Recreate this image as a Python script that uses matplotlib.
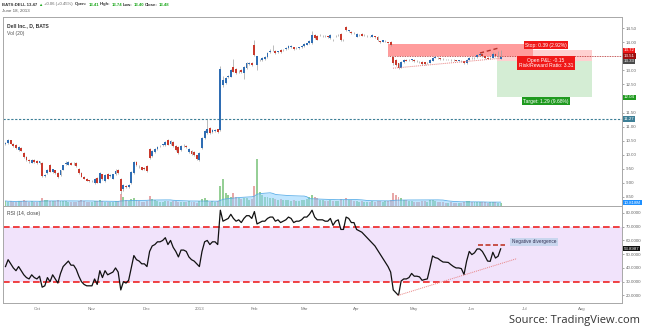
import numpy as np
import pandas as pd
import matplotlib
matplotlib.use("Agg")
import matplotlib.pyplot as plt
from matplotlib.patches import Rectangle

plt.rcParams["font.family"] = ["Liberation Sans", "DejaVu Sans"]

# daily bars, BATS:DELL, 2012-09-13 .. 2013-06-18
opens = [10.40, 10.42, 10.52, 10.38, 10.35, 10.18, 10.25, 10.07, 9.93, 9.80, 9.72, 9.82, 9.78, 9.70, 9.72, 9.26, 9.35, 9.62, 9.38, 9.45,
         9.36, 9.28, 9.46, 9.66, 9.65, 9.72, 9.70, 9.72, 9.48, 9.35, 9.22, 9.15, 9.08, 9.05, 9.00, 9.17, 9.00, 9.30, 9.05, 9.30,
         9.25, 9.15, 9.30, 9.45, 9.15, 8.78, 8.90, 8.86, 9.00, 9.35, 9.74, 9.58, 9.55, 9.52, 9.60, 10.20, 9.95, 10.10, 10.20, 10.30,
         10.35, 10.35, 10.52, 10.38, 10.45, 10.32, 10.28, 10.18, 10.33, 10.32, 10.08, 10.15, 10.10, 9.98, 9.82, 10.24, 10.60, 10.78, 10.95, 10.80,
         10.85, 10.90, 10.88, 12.48, 12.55, 12.77, 12.78, 13.11, 13.05, 12.94, 13.03, 12.90, 13.07, 13.24, 13.28, 13.90, 13.19, 13.36, 13.37, 13.40,
         13.49, 13.66, 13.72, 13.70, 13.66, 13.73, 13.72, 13.78, 13.79, 13.84, 13.82, 13.80, 13.81, 13.82, 13.87, 13.91, 13.96, 13.96, 14.26, 14.22,
         14.25, 14.21, 14.23, 14.21, 14.14, 14.09, 14.21, 14.25, 14.30, 14.07, 14.53, 14.41, 14.38, 14.33, 14.20, 14.25, 14.30, 14.25, 14.21, 14.22,
         14.20, 14.21, 14.20, 14.03, 14.02, 14.05, 14.00, 14.02, 13.49, 13.37, 13.25, 13.10, 13.31, 13.36, 13.36, 13.38, 13.37, 13.33, 13.30, 13.31,
         13.29, 13.25, 13.28, 13.35, 13.46, 13.45, 13.43, 13.41, 13.40, 13.39, 13.38, 13.37, 13.36, 13.35, 13.34, 13.33, 13.26, 13.38, 13.44, 13.43,
         13.47, 13.55, 13.60, 13.50, 13.45, 13.43, 13.45, 13.60, 13.50, 13.41]
highs = [10.46, 10.55, 10.54, 10.41, 10.37, 10.30, 10.28, 10.10, 9.96, 9.84, 9.85, 9.86, 9.80, 9.79, 9.75, 9.33, 9.48, 9.66, 9.50, 9.47,
         9.38, 9.47, 9.65, 9.76, 9.77, 9.75, 9.73, 9.74, 9.52, 9.37, 9.25, 9.18, 9.11, 9.10, 9.16, 9.20, 9.38, 9.33, 9.30, 9.34,
         9.32, 9.33, 9.48, 9.48, 9.18, 8.95, 8.93, 8.96, 9.42, 9.77, 9.78, 9.62, 9.58, 9.55, 9.63, 10.24, 10.18, 10.25, 10.31, 10.36,
         10.40, 10.48, 10.56, 10.51, 10.48, 10.35, 10.30, 10.35, 10.38, 10.35, 10.23, 10.18, 10.13, 10.00, 10.09, 10.63, 10.88, 11.27, 10.98, 10.91,
         10.92, 10.93, 13.15, 12.80, 12.76, 12.83, 13.05, 13.40, 13.08, 13.00, 13.06, 13.16, 13.31, 13.30, 13.31, 14.08, 13.53, 13.42, 13.48, 13.51,
         13.64, 13.75, 13.90, 13.73, 13.70, 13.76, 13.76, 13.82, 13.90, 13.90, 13.85, 13.84, 13.85, 13.89, 13.96, 13.98, 14.08, 14.42, 14.29, 14.25,
         14.29, 14.25, 14.26, 14.24, 14.28, 14.12, 14.25, 14.29, 14.33, 14.11, 14.58, 14.45, 14.40, 14.36, 14.32, 14.29, 14.32, 14.28, 14.25, 14.24,
         14.28, 14.23, 14.22, 14.06, 14.10, 14.09, 14.03, 14.04, 13.52, 13.40, 13.28, 13.33, 13.40, 13.39, 13.41, 13.42, 13.40, 13.36, 13.33, 13.34,
         13.31, 13.29, 13.39, 13.49, 13.50, 13.48, 13.45, 13.43, 13.42, 13.42, 13.40, 13.39, 13.38, 13.38, 13.37, 13.35, 13.40, 13.48, 13.47, 13.49,
         13.60, 13.62, 13.63, 13.53, 13.48, 13.47, 13.66, 13.63, 13.69, 13.74]
lows = [10.36, 10.40, 10.37, 10.27, 10.22, 10.15, 10.12, 9.90, 9.78, 9.70, 9.70, 9.72, 9.68, 9.67, 9.22, 9.20, 9.32, 9.38, 9.36, 9.32,
        9.19, 9.25, 9.44, 9.63, 9.62, 9.62, 9.62, 9.55, 9.33, 9.20, 9.12, 9.05, 9.03, 9.02, 8.97, 8.98, 8.98, 9.10, 9.02, 9.12,
        9.20, 9.13, 9.28, 9.32, 8.62, 8.72, 8.80, 8.83, 8.97, 9.33, 9.60, 9.52, 9.44, 9.46, 9.40, 9.85, 9.92, 10.07, 10.17, 10.26,
        10.31, 10.32, 10.33, 10.35, 10.28, 10.15, 10.03, 10.15, 10.29, 10.25, 10.05, 10.00, 9.97, 9.82, 9.78, 10.22, 10.57, 10.75, 10.75, 10.77,
        10.82, 10.77, 10.85, 12.40, 12.50, 12.72, 12.75, 12.93, 12.87, 12.90, 12.92, 12.70, 13.04, 13.20, 13.17, 13.50, 13.00, 13.32, 13.34, 13.37,
        13.46, 13.62, 13.68, 13.58, 13.62, 13.62, 13.69, 13.74, 13.76, 13.80, 13.72, 13.77, 13.78, 13.80, 13.85, 13.89, 13.94, 13.94, 14.11, 14.08,
        14.21, 14.18, 14.19, 14.16, 14.12, 14.04, 14.18, 14.22, 14.05, 14.04, 14.41, 14.38, 14.29, 14.29, 14.18, 14.22, 14.21, 14.22, 14.19, 14.18,
        14.18, 14.17, 14.05, 13.99, 14.00, 14.02, 13.96, 13.88, 13.20, 13.15, 13.05, 13.07, 13.28, 13.32, 13.33, 13.35, 13.30, 13.29, 13.26, 13.20,
        13.21, 13.22, 13.26, 13.33, 13.43, 13.41, 13.38, 13.37, 13.36, 13.36, 13.34, 13.33, 13.32, 13.32, 13.30, 13.22, 13.24, 13.36, 13.40, 13.41,
        13.45, 13.52, 13.49, 13.42, 13.39, 13.40, 13.43, 13.49, 13.47, 13.40]
closes = [10.42, 10.52, 10.40, 10.30, 10.25, 10.27, 10.15, 9.93, 9.82, 9.78, 9.82, 9.75, 9.72, 9.76, 9.25, 9.28, 9.46, 9.40, 9.48, 9.35,
          9.22, 9.45, 9.62, 9.72, 9.74, 9.64, 9.69, 9.60, 9.36, 9.22, 9.15, 9.08, 9.07, 9.06, 9.14, 9.00, 9.36, 9.12, 9.28, 9.15,
          9.27, 9.30, 9.43, 9.35, 8.70, 8.92, 8.85, 8.93, 9.39, 9.74, 9.64, 9.56, 9.47, 9.50, 9.42, 9.88, 10.15, 10.22, 10.28, 10.32,
          10.36, 10.45, 10.35, 10.48, 10.30, 10.18, 10.06, 10.32, 10.34, 10.28, 10.20, 10.03, 10.00, 9.85, 10.06, 10.60, 10.84, 10.90, 10.78, 10.88,
          10.86, 10.80, 13.05, 12.66, 12.72, 12.79, 13.02, 12.96, 12.90, 12.96, 12.95, 13.13, 13.28, 13.26, 13.20, 13.55, 13.51, 13.38, 13.45, 13.48,
          13.61, 13.67, 13.73, 13.61, 13.67, 13.65, 13.73, 13.79, 13.87, 13.85, 13.75, 13.81, 13.82, 13.87, 13.94, 13.96, 14.06, 14.26, 14.14, 14.10,
          14.26, 14.22, 14.22, 14.20, 14.26, 14.08, 14.22, 14.26, 14.08, 14.08, 14.44, 14.42, 14.32, 14.32, 14.30, 14.26, 14.23, 14.26, 14.22, 14.21,
          14.26, 14.20, 14.08, 14.02, 14.08, 14.06, 13.99, 13.91, 13.25, 13.19, 13.08, 13.30, 13.37, 13.35, 13.38, 13.39, 13.33, 13.32, 13.29, 13.22,
          13.24, 13.26, 13.36, 13.46, 13.47, 13.44, 13.41, 13.40, 13.39, 13.39, 13.37, 13.36, 13.35, 13.35, 13.33, 13.25, 13.37, 13.45, 13.43, 13.46,
          13.55, 13.58, 13.52, 13.45, 13.42, 13.44, 13.58, 13.52, 13.53, 13.48]
volumes = [16, 14, 15, 13, 14, 17, 15, 18, 16, 14, 15, 13, 14, 15, 25, 20, 18, 17, 15, 16,
           18, 16, 17, 15, 14, 13, 12, 14, 17, 18, 16, 14, 13, 12, 15, 16, 19, 15, 14, 13,
           12, 14, 16, 15, 38, 28, 20, 16, 22, 24, 18, 15, 14, 13, 17, 32, 22, 18, 16, 14,
           13, 15, 16, 14, 15, 17, 14, 13, 12, 14, 15, 13, 12, 11, 16, 22, 24, 18, 14, 16,
           13, 15, 62, 85, 42, 36, 30, 40, 28, 24, 22, 26, 24, 20, 22, 64, 150, 45, 35, 28,
           30, 26, 24, 22, 20, 22, 19, 18, 20, 17, 19, 16, 17, 18, 20, 22, 28, 35, 30, 24,
           20, 18, 16, 15, 18, 17, 16, 15, 22, 18, 26, 20, 18, 16, 15, 14, 15, 13, 14, 13,
           15, 14, 17, 16, 14, 15, 16, 20, 42, 35, 30, 24, 20, 18, 16, 15, 14, 14, 13, 16,
           15, 14, 18, 20, 15, 13, 12, 12, 11, 11, 12, 11, 10, 10, 11, 14, 16, 15, 13, 12,
           13, 14, 13, 12, 11, 12, 13, 12, 11, 10.818]
rsi = [41, 46, 43, 40, 38, 41, 38, 35, 33, 32, 35, 33, 32, 34, 26, 27, 33, 30, 35, 32,
       29, 36, 41, 43, 45, 42, 42, 39, 34, 30, 28, 27, 27, 27, 32, 28, 38, 33, 38, 35,
       36, 37, 40, 37, 24, 30, 29, 31, 40, 49, 46, 45, 43, 43, 41, 52, 56, 57, 59, 59,
       60, 62, 57, 60, 55, 52, 48, 53, 53, 52, 48, 46, 45, 43, 41, 52, 59, 60, 57, 59,
       59, 57, 82, 74, 75, 76, 79, 76, 74, 75, 73, 76, 78, 78, 76, 81, 72, 73, 74, 74,
       76, 77, 77, 74, 75, 73, 74, 75, 77, 76, 73, 74, 74, 75, 77, 77, 79, 82, 77, 75,
       75, 75, 74, 74, 76, 71, 74, 75, 68, 68, 77, 76, 73, 73, 68, 67, 66, 64, 62, 60,
       58, 56, 53, 50, 47, 44, 41, 37, 24, 22, 20, 30.5, 32, 32, 33, 36, 34, 34, 33.5, 31,
       31.6, 32, 40, 48.7, 47.5, 47, 45.5, 44.3, 44.2, 44, 42.4, 41, 40, 40, 39.5, 35.2, 45, 52, 49.7, 51,
       53.8, 53.8, 52, 48.7, 45, 44.8, 51.4, 47.2, 48.5, 53.8987]

# 13.50 and 12.00 sit under the stop/target tags
price_ticks = [8.5, 9.0, 9.5, 10.0, 10.5, 11.0, 11.5, 12.5, 13.0, 14.0, 14.5]
rsi_ticks = [20, 30, 40, 50, 60, 70, 80]
holidays = ["2012-10-29", "2012-10-30", "2012-11-22", "2012-12-25", "2013-01-01",
            "2013-01-21", "2013-02-18", "2013-03-29", "2013-05-27", "2013-07-04"]

# position tool levels
entry, stop, target, last_px, resist = 13.33, 13.72, 12.04, 13.51, 11.27

opens, highs, lows, closes = map(np.array, (opens, highs, lows, closes))
volumes = np.array(volumes)
n = len(closes)
idx = np.arange(n)

days = pd.bdate_range("2012-09-13", "2013-08-30")
days = days[~days.isin(pd.to_datetime(holidays))]
month_pos, month_lab = [], []
for i in range(1, len(days)):
    if days[i].month != days[i - 1].month and days[i] >= pd.Timestamp("2012-10-01"):
        month_pos.append(i)
        month_lab.append("2013" if days[i].month == 1 else days[i].strftime("%b"))

W, H = 645, 331
fig = plt.figure(figsize=(W / 100, H / 100), dpi=100)


def rect(x0, y0, x1, y1):
    return [x0 / W, 1 - y1 / H, (x1 - x0) / W, (y1 - y0) / H]


def ftext(x, y, s, **kw):
    return fig.text(x / W, 1 - y / H, s, va="center", **kw)


x_lo, x_hi = -0.95, 235.3
ax_vol = fig.add_axes(rect(3, 17, 622, 206))
ax = fig.add_axes(rect(3, 17, 622, 206), sharex=ax_vol)
ax_rsi = fig.add_axes(rect(3, 206, 622, 303), sharex=ax_vol)
ax.patch.set_alpha(0)

# volume + 20-bar average
up = closes >= opens
ax_vol.bar(idx[up], volumes[up], width=0.75, color="#7cc47c", alpha=0.8, lw=0)
ax_vol.bar(idx[~up], volumes[~up], width=0.75, color="#e39393", alpha=0.8, lw=0)
vol_ma = pd.Series(volumes).rolling(20, min_periods=1).mean()
ax_vol.fill_between(idx, 0, vol_ma, color="#8fd2ff", alpha=0.55, lw=0)
ax_vol.plot(idx, vol_ma, color="#5aaee8", lw=0.6)
ax_vol.set_ylim(0, 600)
ax_vol.set_xlim(x_lo, x_hi)
ax_vol.axis("off")

# position boxes
x_box0, x_box1 = 187.6, 223.9
ax.add_patch(Rectangle((x_box0, entry), x_box1 - x_box0, stop - entry, fc="#ffd0d0", ec="none", zorder=0.5))
ax.add_patch(Rectangle((x_box0, target), x_box1 - x_box0, entry - target, fc="#d4edd4", ec="none", zorder=0.5))
ax.add_patch(Rectangle((146, 13.52), 201.3 - 146, 13.95 - 13.52, fc="#ff9c9c", ec="none", zorder=0.6))

# candles
ax.vlines(idx, lows, highs, color="#a0a0a0", lw=0.5, zorder=2)
body_lo = np.minimum(opens, closes)
body_h = np.maximum(np.abs(closes - opens), 0.015)
ax.bar(idx[up], body_h[up], bottom=body_lo[up], width=0.72, color="#2f6db3", lw=0, zorder=3)
ax.bar(idx[~up], body_h[~up], bottom=body_lo[~up], width=0.72, color="#c9392c", lw=0, zorder=3)

# drawn levels and trend lines
ax.axhline(resist, color="#3d7f96", lw=0.8, ls=(0, (2, 1.5)), zorder=1)
ax.plot([146, x_hi], [last_px, last_px], color="#b22222", lw=0.6, ls=(0, (1, 1)), zorder=1)
ax.plot([181.1, 188.7], [13.62, 13.81], color="#b5332b", lw=1.0, ls=(0, (3, 2)), zorder=4)
ax.plot([147.9, 188.7], [13.08, 13.43], color="#e88080", lw=0.7, ls=(0, (1, 1)), zorder=4)

lab = dict(ha="center", va="center", fontsize=3.6, color="white", zorder=6)
ax.text(206.3, 13.895, "Stop: 0.39 (2.92%)", bbox=dict(boxstyle="square,pad=0.3", fc="#f01818", ec="none"), **lab)
ax.text(206.3, 13.265, "Open P&L: -0.15\nRisk/Reward Ratio: 3.31", linespacing=1.1,
        bbox=dict(boxstyle="square,pad=0.3", fc="#f01818", ec="none"), **lab)
ax.text(206.3, 11.895, "Target: 1.29 (9.68%)", bbox=dict(boxstyle="square,pad=0.3", fc="#1f9a1f", ec="none"), **lab)

ax.set_ylim(8.176, 14.902)
ax.yaxis.tick_right()
ax.set_yticks(price_ticks)
ax.set_yticklabels([f"{t:.2f}" for t in price_ticks])
ax.tick_params(axis="y", labelsize=3.2, colors="#666666", length=1.5, width=0.4, pad=1)
ax.tick_params(axis="x", bottom=False, labelbottom=False)
for a in (ax, ax_rsi):
    for s in a.spines.values():
        s.set_color("#a8a8a8")
        s.set_linewidth(0.7)


def tag(a, val, txt, fc):
    a.text(1.003, val, txt, transform=a.get_yaxis_transform(), ha="left", va="center",
           fontsize=3.2, color="white", clip_on=False, zorder=10,
           bbox=dict(boxstyle="square,pad=0.15", fc=fc, ec="none"))


tag(ax, stop, "13.72", "#f01818")
tag(ax, last_px, "13.51", "#9e1010")
tag(ax, entry, "13.33", "#4a4a4a")
tag(ax, target, "12.04", "#1f9a1f")
tag(ax, resist, "11.27", "#3d7f96")
tag(ax_vol, volumes[-1], "10.818M", "#1e90ff")

ax.text(0.007, 0.97, "Dell Inc., D, BATS", transform=ax.transAxes, fontsize=3.6, color="#333333",
        fontweight="bold", va="top")
ax.text(0.007, 0.925, "Vol (20)", transform=ax.transAxes, fontsize=3.6, color="#555555", va="top")

# RSI panel
ax_rsi.axhspan(30, 70, color="#f1e3fb", lw=0, zorder=0)
ax_rsi.axhline(70, color="#ee2222", lw=1.2, ls=(0, (4, 2)), zorder=1)
ax_rsi.axhline(30, color="#ee2222", lw=1.2, ls=(0, (4, 2)), zorder=1)
ax_rsi.plot(idx, rsi, color="#111111", lw=0.9, zorder=3)
ax_rsi.plot([180.3, 190.6], [57, 57], color="#c0392b", lw=1.2, ls=(0, (3, 1.5)), zorder=4)
ax_rsi.plot([149.8, 195.2], [20, 46.8], color="#e88080", lw=0.7, ls=(0, (1, 1)), zorder=4)
ax_rsi.text(201.7, 58.9, "Negative divergence", ha="center", va="center", fontsize=3.4, color="#333355",
            bbox=dict(boxstyle="square,pad=0.3", fc="#c9d6ee", ec="none"), zorder=6)
ax_rsi.text(0.007, 0.95, "RSI (14, close)", transform=ax_rsi.transAxes, fontsize=3.6, color="#444444", va="top")
ax_rsi.set_ylim(14.5, 85.05)
ax_rsi.set_xlim(x_lo, x_hi)
ax_rsi.yaxis.tick_right()
ax_rsi.set_yticks(rsi_ticks)
ax_rsi.set_yticklabels([f"{t:.4f}" for t in rsi_ticks])
ax_rsi.tick_params(axis="y", labelsize=3.2, colors="#666666", length=1.5, width=0.4, pad=1)
ax_rsi.set_xticks(month_pos)
ax_rsi.set_xticklabels(month_lab)
ax_rsi.tick_params(axis="x", labelsize=3.2, colors="#777777", length=0, pad=3)
tag(ax_rsi, rsi[-1], "53.8987", "#111111")

# quote header, pieces laid out left to right
renderer = fig.canvas.get_renderer()
pieces = [("BATS:DELL 13.47", "#333333", "bold"), ("\u25b2", "#22aa22", "normal"),
          ("+0.06 (+0.45%)", "#666666", "normal"), ("", None, None)]
for key, val in [("Open:", "13.41"), ("High:", "13.74"), ("Low:", "13.40"), ("Close:", "13.48")]:
    pieces += [(key, "#333333", "bold"), (val, "#22aa22", "bold")]
x = 2.0
for s, c, w in pieces:
    if not s:
        x += 2
        continue
    t = ftext(x, 4.5, s, color=c, fontweight=w, fontsize=3.1, ha="left")
    x = t.get_window_extent(renderer).x1 + 1.0
ftext(2, 10.5, "June 18, 2013", color="#555555", fontsize=3.2, ha="left")

ftext(640, 321, "Source: TradingView.com", fontsize=8, color="#333333", ha="right", family=["Open Sans", "DejaVu Sans"])

fig.savefig("out.png", dpi=100, facecolor="white")
